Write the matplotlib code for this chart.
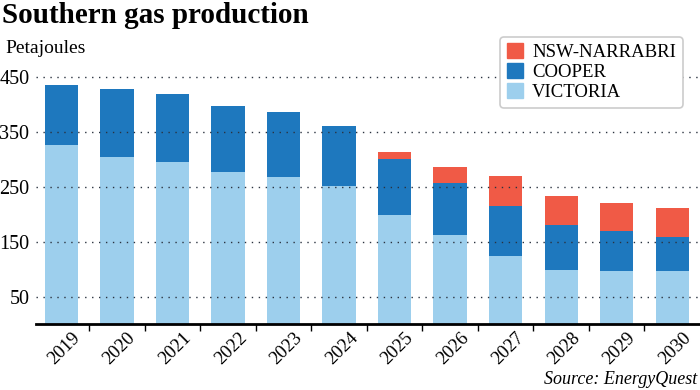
import matplotlib.pyplot as plt
import numpy as np
from matplotlib.patches import Patch
from matplotlib.ticker import FixedLocator
import matplotlib.transforms as mtransforms

# values (petajoules)
years = ['2019', '2020', '2021', '2022', '2023', '2024',
         '2025', '2026', '2027', '2028', '2029', '2030']
victoria = [327, 305, 296, 277, 268, 251, 199, 162, 125, 98, 96, 96]
cooper = [109, 123, 124, 121, 118, 110, 102, 95, 90, 82, 73, 62]
narrabri = [0, 0, 0, 0, 0, 0, 13, 30, 55, 53, 52, 53]
yticks = [50, 150, 250, 350, 450]

c_vic = '#9dcfed'
c_coo = '#1e78be'
c_nar = '#f05a46'
serif = 'Liberation Serif'

fig = plt.figure(figsize=(7, 3.9), dpi=100)
ax = fig.add_axes([0.052, 0.169, 0.948, 0.675])

x = np.arange(len(years))
vic = np.array(victoria)
coo = np.array(cooper)
nar = np.array(narrabri)
w = 0.6
ax.bar(x, vic, w, color=c_vic, zorder=1)
ax.bar(x, coo, w, bottom=vic, color=c_coo, zorder=1)
ax.bar(x, nar, w, bottom=vic + coo, color=c_nar, zorder=1)

ax.set_xlim(-0.45, 11.5)
ax.set_ylim(0, 480)

# dotted gridlines drawn over the bars
for v in yticks:
    ax.axhline(v, color='#2b3340', linestyle=(0, (1, 4)), linewidth=1.0, zorder=3)

for s in ['left', 'right', 'top']:
    ax.spines[s].set_visible(False)
ax.spines['bottom'].set_linewidth(2)
ax.spines['bottom'].set_zorder(4)

ax.set_yticks(yticks)
ax.set_yticklabels([str(v) for v in yticks], fontsize=14.5, family=serif)
ax.tick_params(axis='y', length=0, pad=5)

ax.set_xticks(x)
ax.set_xticklabels(years, fontsize=13.5, family=serif, rotation=45,
                   ha='right', va='top', rotation_mode='anchor')
ax.tick_params(axis='x', which='major', length=0, pad=4)
ax.xaxis.set_minor_locator(FixedLocator(x[:-1] + 0.5))
ax.tick_params(axis='x', which='minor', length=5, width=1, direction='out')
offset = mtransforms.ScaledTranslation(10 / 100, 0, fig.dpi_scale_trans)
for lbl in ax.get_xticklabels():
    lbl.set_transform(lbl.get_transform() + offset)

fig.text(0.003, 0.995, 'Southern gas production', fontsize=21, fontweight='bold',
         family=serif, va='top', ha='left')
fig.text(0.007, 0.875, 'Petajoules', fontsize=14, family=serif, va='center', ha='left')
fig.text(0.996, 0.004, 'Source: EnergyQuest', fontsize=13, family=serif,
         style='italic', ha='right', va='bottom')

handles = [Patch(color=c_nar), Patch(color=c_coo), Patch(color=c_vic)]
leg = ax.legend(handles, ['NSW-NARRABRI', 'COOPER', 'VICTORIA'],
                loc='upper right', bbox_to_anchor=(0.988, 1.127),
                prop={'family': serif, 'size': 13.5}, frameon=True,
                fancybox=True, handlelength=0.85, handleheight=0.85,
                handletextpad=0.5, labelspacing=0.1, borderpad=0.35,
                framealpha=1)
leg.get_frame().set_edgecolor('#cccccc')
leg.get_frame().set_linewidth(1.2)
leg.set_zorder(5)

fig.savefig('out.png', dpi=100)
